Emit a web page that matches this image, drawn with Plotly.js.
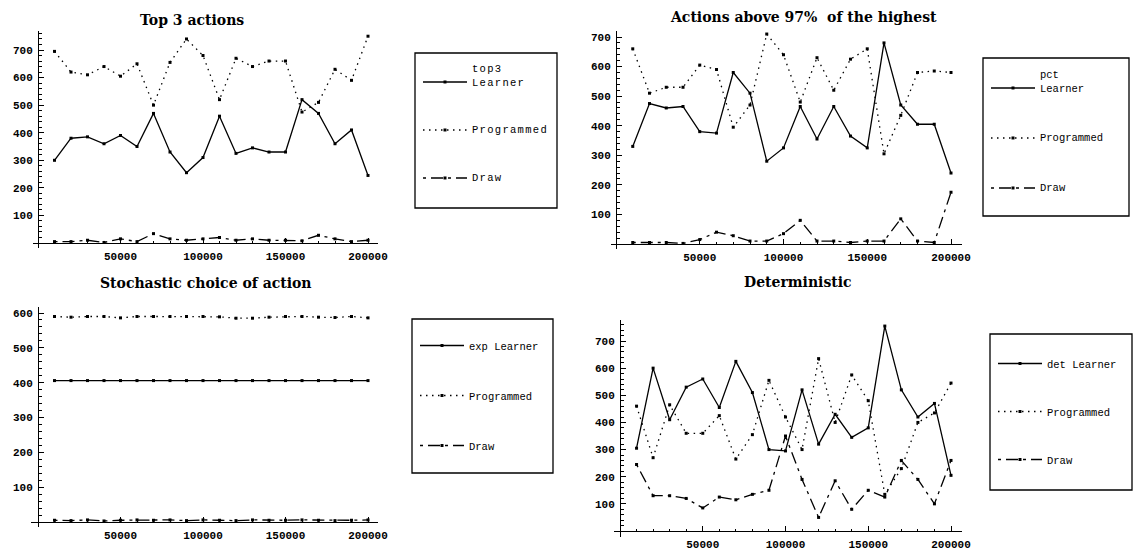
<!DOCTYPE html>
<html>
<head>
<meta charset="utf-8">
<script src="https://cdn.plot.ly/plotly-3.0.1.min.js"></script>
<style>
html,body{margin:0;padding:0;background:#fff;}
#chart{width:1133px;height:552px;}
.legendtext{letter-spacing:1.3px;}
</style>
</head>
<body>
<div id="chart"></div>
<script>
// ---------------- data ----------------
const steps = [10000, 20000, 30000, 40000, 50000, 60000, 70000, 80000, 90000, 100000,
               110000, 120000, 130000, 140000, 150000, 160000, 170000, 180000, 190000, 200000];

const titles = ["Top 3 actions", "Actions above 97%  of the highest", "Stochastic choice of action", "Deterministic"];
const learnerNames = ["top3<br>Learner", "pct<br>Learner", "exp Learner", "det Learner"];
const programmedName = "Programmed";
const drawName = "Draw";

const top3Learner    = [300, 380, 385, 360, 390, 350, 470, 330, 255, 310, 460, 325, 345, 330, 330, 520, 470, 360, 410, 245];
const top3Programmed = [695, 620, 610, 640, 605, 650, 500, 655, 740, 680, 520, 670, 640, 660, 660, 475, 510, 630, 590, 750];
const top3Draw       = [5, 5, 10, 2, 15, 5, 34, 15, 10, 15, 20, 10, 15, 10, 10, 8, 28, 15, 5, 10];

const pctLearner     = [330, 475, 460, 465, 380, 375, 580, 510, 280, 325, 465, 355, 465, 365, 325, 680, 470, 405, 405, 240];
const pctProgrammed  = [660, 510, 530, 530, 605, 590, 395, 470, 710, 640, 480, 630, 520, 625, 660, 305, 435, 580, 585, 580];
const pctDraw        = [5, 5, 5, 2, 15, 40, 28, 10, 10, 35, 80, 10, 10, 5, 10, 10, 85, 10, 5, 175];

const expLearner     = [406, 406, 406, 406, 406, 406, 406, 406, 406, 406, 406, 406, 406, 406, 406, 406, 406, 406, 406, 406];
const expProgrammed  = [590, 588, 590, 590, 586, 590, 590, 590, 590, 590, 589, 585, 585, 588, 590, 590, 588, 587, 590, 586];
const expDraw        = [5, 4, 6, 3, 5, 6, 5, 6, 4, 6, 5, 4, 6, 5, 5, 6, 5, 4, 5, 6];

const detLearner     = [305, 600, 410, 530, 560, 455, 625, 510, 300, 295, 520, 320, 430, 345, 380, 755, 520, 420, 470, 205];
const detProgrammed  = [460, 270, 465, 360, 360, 425, 265, 355, 555, 420, 300, 635, 400, 575, 480, 135, 230, 400, 435, 545];
const detDraw        = [245, 130, 130, 120, 85, 125, 115, 135, 150, 350, 190, 50, 185, 80, 150, 125, 260, 190, 100, 260];

const xTickVals = [50000, 100000, 150000, 200000];
const xTickText = ["50000", "100000", "150000", "200000"];
const yTickVals = [100, 200, 300, 400, 500, 600, 700];
const yTickText = ["100", "200", "300", "400", "500", "600", "700"];

const panelData = [
  [top3Learner, top3Programmed, top3Draw],
  [pctLearner, pctProgrammed, pctDraw],
  [expLearner, expProgrammed, expDraw],
  [detLearner, detProgrammed, detDraw]
];

// ---------------- layout geometry (pixels) ----------------
const W = 1133, H = 552;
const geom = [
  {xZero: 38,  x200: 368, yZero: 243, yRef: 700, yRefPx: 50,  left: 33,  right: 378, top: 31,  bottom: 248,
   box: [415, 53, 557, 208], leg: [418, 55], gap: 29, valign: 'bottom', tx: 192, ty: 20},
  {xZero: 616, x200: 951, yZero: 244, yRef: 700, yRefPx: 37,  left: 611, right: 962, top: 31,  bottom: 249,
   box: [983, 58, 1129, 216], leg: [986, 61], gap: 31, valign: 'bottom', tx: 803, ty: 17},
  {xZero: 38,  x200: 368, yZero: 522, yRef: 600, yRefPx: 313, left: 31,  right: 378, top: 307, bottom: 527,
   box: [412, 319, 553, 473], leg: [415, 331], gap: 31, valign: 'middle', tx: 206, ty: 283},
  {xZero: 620, x200: 951, yZero: 531, yRef: 700, yRefPx: 341, left: 614, right: 962, top: 320, bottom: 537,
   box: [990, 334, 1132, 490], leg: [993, 349], gap: 29, valign: 'middle', tx: 798, ty: 282}
];

const lineStyles = [
  {dash: 'solid'},
  {dash: '1.5px,4.5px'},
  {dash: '3px,5px,12px,5px'}
];

const traces = [];
const layout = {
  width: W, height: H, autosize: false,
  margin: {l: 0, r: 0, t: 0, b: 0, pad: 0},
  paper_bgcolor: '#fff', plot_bgcolor: 'rgba(0,0,0,0)',
  showlegend: true,
  shapes: [], annotations: []
};

const tickFont = {family: 'Liberation Mono, monospace', size: 11, color: '#000', weight: 'bold'};

geom.forEach((g, i) => {
  const n = i + 1;
  const xa = 'xaxis' + (n === 1 ? '' : n), ya = 'yaxis' + (n === 1 ? '' : n);
  const xr = 'x' + (n === 1 ? '' : n), yr = 'y' + (n === 1 ? '' : n);
  const sx = (g.x200 - g.xZero) / 200000;
  const sy = (g.yZero - g.yRefPx) / g.yRef;
  layout[xa] = {
    domain: [g.left / W, g.right / W],
    range: [(g.left - g.xZero) / sx, (g.right - g.xZero) / sx],
    anchor: 'free', position: 1 - g.yZero / H,
    showline: true, linecolor: '#000', linewidth: 1.3,
    showgrid: false, zeroline: false,
    tickmode: 'array', tickvals: xTickVals, ticktext: xTickText,
    ticks: 'inside', ticklen: 5, tickwidth: 1, tickcolor: '#000',
    minor: {ticks: 'inside', tick0: 0, dtick: 10000, ticklen: 2.5, tickcolor: '#000', tickwidth: 1, showgrid: false},
    tickfont: tickFont, ticklabelstandoff: 2, fixedrange: true
  };
  layout[ya] = {
    domain: [1 - g.bottom / H, 1 - g.top / H],
    range: [(g.yZero - g.bottom) / sy, (g.yZero - g.top) / sy],
    anchor: 'free', position: g.xZero / W,
    showline: true, linecolor: '#000', linewidth: 1.3,
    showgrid: false, zeroline: false,
    tickmode: 'array', tickvals: yTickVals, ticktext: yTickText,
    ticks: 'inside', ticklen: 5, tickwidth: 1, tickcolor: '#000',
    minor: {ticks: 'inside', tick0: 0, dtick: 20, ticklen: 2.5, tickcolor: '#000', tickwidth: 1, showgrid: false},
    tickfont: tickFont, ticklabelstandoff: 3, fixedrange: true
  };
  const legKey = 'legend' + (n === 1 ? '' : n);
  layout[legKey] = {
    x: g.leg[0] / W, y: 1 - g.leg[1] / H, xanchor: 'left', yanchor: 'top',
    bgcolor: 'rgba(0,0,0,0)', borderwidth: 0,
    font: {family: 'Liberation Mono, monospace', size: 10.5, color: '#000'},
    tracegroupgap: g.gap, itemwidth: 44, valign: g.valign, traceorder: 'grouped'
  };
  layout.shapes.push({type: 'rect', xref: 'paper', yref: 'paper',
    x0: g.box[0] / W, x1: g.box[2] / W, y0: 1 - g.box[3] / H, y1: 1 - g.box[1] / H,
    line: {color: '#000', width: 1.3}, fillcolor: 'rgba(0,0,0,0)'});
  layout.annotations.push({xref: 'paper', yref: 'paper', x: g.tx / W, y: 1 - g.ty / H,
    xanchor: 'center', yanchor: 'middle', showarrow: false, text: '<b>' + titles[i] + '</b>',
    font: {family: 'DejaVu Serif, serif', size: 14, color: '#000'}});
  const names = [learnerNames[i], programmedName, drawName];
  panelData[i].forEach((ys, k) => {
    traces.push({
      type: 'scatter', mode: 'lines+markers', x: steps, y: ys, name: names[k],
      xaxis: xr, yaxis: yr, legend: legKey, legendgroup: 'g' + n + '_' + k,
      line: {color: '#000', width: 1.3, dash: lineStyles[k].dash},
      marker: {symbol: 'square', size: 3, color: '#000'},
      cliponaxis: false, hoverinfo: 'skip'
    });
  });
});

Plotly.newPlot('chart', traces, layout, {staticPlot: true, displayModeBar: false});
</script>
</body>
</html>
